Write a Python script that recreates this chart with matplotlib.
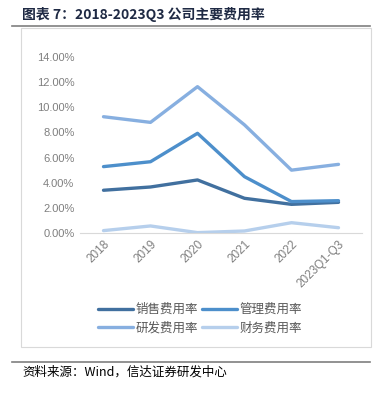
import numpy as np
import matplotlib.pyplot as plt
from matplotlib.lines import Line2D

plt.rcParams['font.family'] = ['Noto Sans CJK SC', 'DejaVu Sans']

years = ['2018', '2019', '2020', '2021', '2022', '2023Q1-Q3']
sales = [3.40, 3.66, 4.22, 2.76, 2.28, 2.44]     # 销售费用率 %
admin = [5.28, 5.67, 7.93, 4.48, 2.50, 2.57]     # 管理费用率 %
rnd = [9.25, 8.80, 11.64, 8.60, 5.00, 5.46]      # 研发费用率 %
fin = [0.19, 0.56, 0.03, 0.16, 0.82, 0.42]       # 财务费用率 %
names = ['销售费用率', '管理费用率', '研发费用率', '财务费用率']
colors = ['#41709f', '#4d8fcb', '#87afe0', '#b6cfec']

fig = plt.figure(figsize=(3.78, 3.96), dpi=100)

# 标题和分隔线
fig.text(22/378, 1-14/396, '图表 7：2018-2023Q3 公司主要费用率', fontsize=10, fontweight='bold',
         color='#1f2a44', va='center', ha='left')
fig.add_artist(Line2D([12/378, 370/378], [1-25.5/396, 1-25.5/396], color='#7f7f7f', lw=1.2))
fig.add_artist(Line2D([12/378, 370/378], [1-362/396, 1-362/396], color='#7f7f7f', lw=1.2))
# 图框
fig.add_artist(plt.Rectangle((20.5/378, 1-347/396), 350/378, 319/396, fill=False,
                             edgecolor='#d9d9d9', lw=0.8))
fig.text(22/378, 1-372/396, '资料来源：Wind，信达证券研发中心', fontsize=9, style='italic',
         color='#000000', va='center', ha='left')

ax = fig.add_axes([80/378, 1-233/396, 282/378, 176/396])
x = np.arange(len(years))
lines = []
for vals, c, n in zip([sales, admin, rnd, fin], colors, names):
    l, = ax.plot(x, vals, color=c, lw=2.4, label=n, solid_capstyle='round', solid_joinstyle='round')
    lines.append(l)

ax.set_xlim(-0.5, len(years)-0.5)
ax.set_ylim(0, 14)
ax.set_yticks(np.arange(0, 15, 2))
ax.set_yticklabels(['%.2f%%' % v for v in np.arange(0, 15, 2)], fontsize=8, color='#7f7f7f',
                   family='Liberation Sans')
ax.set_xticks(x)
ax.set_xticklabels(years, rotation=45, ha='right', va='top', rotation_mode='anchor',
                   fontsize=8.5, color='#7f7f7f', family='Liberation Sans')
ax.tick_params(length=0, pad=4)
for s in ['top', 'right', 'left']:
    ax.spines[s].set_visible(False)
ax.spines['bottom'].set_color('#d9d9d9')

order = [0, 2, 1, 3]
fig.legend([lines[i] for i in order], [names[i] for i in order], loc='center',
           bbox_to_anchor=(0.53, 1-319/396), ncol=2, frameon=False,
           fontsize=9, handlelength=2.8, handletextpad=0.2, columnspacing=0.3,
           labelspacing=0.45, labelcolor='#595959')

fig.savefig('out.png', dpi=100)
